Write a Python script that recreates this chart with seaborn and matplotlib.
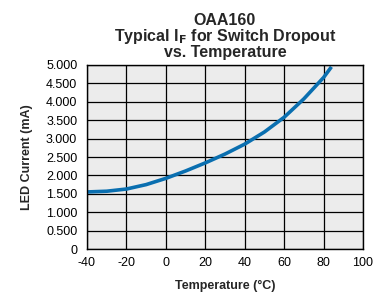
import numpy as np
import pandas as pd
import matplotlib
matplotlib.use("Agg")
import matplotlib.pyplot as plt
import seaborn as sns

# Data
temperature = [-40, -30, -20, -10, 0, 10, 20, 30, 40, 50, 60, 70, 80, 84]
led_current = [1.55, 1.57, 1.63, 1.75, 1.92, 2.12, 2.34, 2.58, 2.85, 3.18, 3.58, 4.08, 4.66, 4.95]
x_ticks = [-40, -20, 0, 20, 40, 60, 80, 100]
y_ticks = [0, 0.5, 1.0, 1.5, 2.0, 2.5, 3.0, 3.5, 4.0, 4.5, 5.0]
y_labels = ["0", "0.500", "1.000", "1.500", "2.000", "2.500", "3.000",
            "3.500", "4.000", "4.500", "5.000"]

df = pd.DataFrame({"temp": temperature, "current": led_current})

sns.set_style("white")
plt.rcParams['font.family'] = ['Liberation Sans', 'DejaVu Sans']
plt.rcParams['axes.unicode_minus'] = False

fig = plt.figure(figsize=(3.8, 2.95), dpi=100)
ax = fig.add_axes([87 / 380, 1 - 249 / 295, 276 / 380, 184 / 295])
ax.set_facecolor("#ececec")

sns.lineplot(data=df, x="temp", y="current", ax=ax, color="#0a6fb0",
             linewidth=2.6, solid_capstyle="butt")

ax.set_xlim(-40, 100)
ax.set_ylim(0, 5)
ax.set_xticks(x_ticks)
ax.set_yticks(y_ticks)
ax.set_yticklabels(y_labels)
ax.grid(True, color="black", linewidth=0.9)
ax.set_axisbelow(True)
for s in ax.spines.values():
    s.set_color("black")
    s.set_linewidth(1.0)
ax.tick_params(axis="y", length=0, labelsize=9, pad=7, colors="black")
ax.tick_params(axis="x", length=0, labelsize=9, pad=6, colors="black")

ax.set_xlabel("Temperature (°C)", fontsize=9, fontweight="bold", labelpad=8)
ax.set_ylabel("LED Current (mA)", fontsize=9, fontweight="bold", labelpad=9)
ax.set_title("OAA160\nTypical I$_\\mathbf{F}$ for Switch Dropout\nvs. Temperature",
             fontsize=11.5, fontweight="bold", linespacing=0.92, pad=6)

fig.savefig("out.png", dpi=100)
